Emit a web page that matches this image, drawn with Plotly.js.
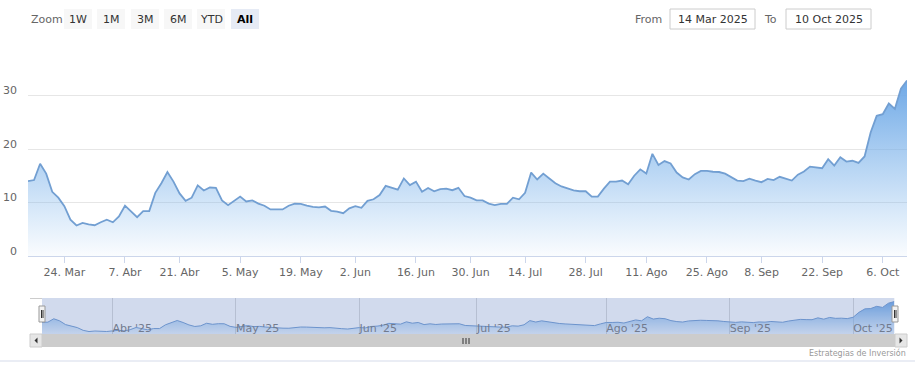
<!DOCTYPE html>
<html>
<head>
<meta charset="utf-8">
<script src="https://cdn.plot.ly/plotly-3.0.1.min.js"></script>
<style>html,body{margin:0;padding:0;background:#fff;}#chart{width:915px;height:379px;}</style>
</head>
<body>
<div id="chart"></div>
<script>
const dates = [
'2025-03-14',
'2025-03-17','2025-03-18','2025-03-19','2025-03-20','2025-03-21',
'2025-03-24','2025-03-25','2025-03-26','2025-03-27','2025-03-28',
'2025-03-31','2025-04-01','2025-04-02','2025-04-03','2025-04-04',
'2025-04-07','2025-04-08','2025-04-09','2025-04-10','2025-04-11',
'2025-04-14','2025-04-15','2025-04-16','2025-04-17',
'2025-04-21','2025-04-22','2025-04-23','2025-04-24','2025-04-25',
'2025-04-28','2025-04-29','2025-04-30','2025-05-01','2025-05-02',
'2025-05-05','2025-05-06','2025-05-07','2025-05-08','2025-05-09',
'2025-05-12','2025-05-13','2025-05-14','2025-05-15','2025-05-16',
'2025-05-19','2025-05-20','2025-05-21','2025-05-22','2025-05-23',
'2025-05-27','2025-05-28','2025-05-29','2025-05-30',
'2025-06-02','2025-06-03','2025-06-04','2025-06-05','2025-06-06',
'2025-06-09','2025-06-10','2025-06-11','2025-06-12','2025-06-13',
'2025-06-16','2025-06-17','2025-06-18','2025-06-20',
'2025-06-23','2025-06-24','2025-06-25','2025-06-26','2025-06-27',
'2025-06-30','2025-07-01','2025-07-02','2025-07-03',
'2025-07-07','2025-07-08','2025-07-09','2025-07-10','2025-07-11',
'2025-07-14','2025-07-15','2025-07-16','2025-07-17','2025-07-18',
'2025-07-21','2025-07-22','2025-07-23','2025-07-24','2025-07-25',
'2025-07-28','2025-07-29','2025-07-30','2025-07-31','2025-08-01',
'2025-08-04','2025-08-05','2025-08-06','2025-08-07','2025-08-08',
'2025-08-11','2025-08-12','2025-08-13','2025-08-14','2025-08-15',
'2025-08-18','2025-08-19','2025-08-20','2025-08-21','2025-08-22',
'2025-08-25','2025-08-26','2025-08-27','2025-08-28','2025-08-29',
'2025-09-02','2025-09-03','2025-09-04','2025-09-05',
'2025-09-08','2025-09-09','2025-09-10','2025-09-11','2025-09-12',
'2025-09-15','2025-09-16','2025-09-17','2025-09-18','2025-09-19',
'2025-09-22','2025-09-23','2025-09-24','2025-09-25','2025-09-26',
'2025-09-29','2025-09-30','2025-10-01','2025-10-02','2025-10-03',
'2025-10-06','2025-10-07','2025-10-08','2025-10-09','2025-10-10'
];
const values = [
14.0,
14.2,17.25,15.4,12.0,10.9,
9.3,6.8,5.7,6.2,5.9,
5.75,6.3,6.8,6.3,7.4,
9.4,8.25,7.25,8.4,8.4,
11.8,13.6,15.7,13.9,
11.7,10.3,10.9,13.2,12.25,
12.8,12.75,10.4,9.5,10.3,
11.1,10.2,10.4,9.8,9.4,
8.7,8.75,8.7,9.4,9.8,
9.75,9.4,9.2,9.1,9.25,
8.45,8.3,8.0,8.9,
9.3,9.0,10.3,10.6,11.4,
13.1,12.8,12.4,14.5,13.25,
13.9,12.0,12.7,12.1,
12.5,12.6,12.3,12.75,11.2,
10.9,10.4,10.4,9.8,
9.5,9.75,9.75,10.9,10.6,
11.8,15.6,14.3,15.4,14.5,
13.6,13.0,12.6,12.25,12.1,
12.1,11.1,11.1,12.6,13.9,
13.9,14.1,13.4,15.0,16.2,
15.4,19.1,17.0,17.75,17.3,
15.6,14.7,14.3,15.3,15.9,
15.9,15.75,15.7,15.4,14.8,
14.1,14.0,14.45,14.1,
13.8,14.4,14.2,14.8,14.45,
14.1,15.2,15.8,16.7,16.5,
16.4,18.1,16.9,18.45,17.65,
17.8,17.4,18.6,23.1,26.2,
26.5,28.5,27.5,31.3,32.8
];
const holidays = ['2025-04-18','2025-05-26','2025-06-19','2025-07-04','2025-09-01'];
const xTickVals = ['2025-03-24','2025-04-07','2025-04-21','2025-05-05','2025-05-19','2025-06-02','2025-06-16','2025-06-30','2025-07-14','2025-07-28','2025-08-11','2025-08-25','2025-09-08','2025-09-22','2025-10-06'];
const xTickText = ['24. Mar','7. Abr','21. Abr','5. May','19. May','2. Jun','16. Jun','30. Jun','14. Jul','28. Jul','11. Ago','25. Ago','8. Sep','22. Sep','6. Oct'];
const yTickVals = [0,10,20,30,40];
const yTickText = ['0','10','20','30',''];
const navTickVals = ['2025-04-01','2025-05-01','2025-06-02','2025-07-01','2025-08-01','2025-09-02','2025-10-01'];
const navTickText = ["Abr '25","May '25","Jun '25","Jul '25","Ago '25","Sep '25","Oct '25"];
const zoomButtons = ['1W','1M','3M','6M','YTD','All'];
const fromText = '14 Mar 2025';
const toText = '10 Oct 2025';
const creditText = 'Estrategias de Inversión';

const W = 915, H = 379, ML = 28, MR = 8;
const PW = W - ML - MR;
const px = x => (x - ML) / PW;
const py = y => (H - y) / H;
const FONT = 'DejaVu Sans, Verdana, sans-serif';

const breaks = [{bounds: ['sat', 'mon']}, {values: holidays}];
const grad = {type: 'vertical', colorscale: [[0, 'rgba(124,181,236,0.04)'], [1, 'rgba(110,168,230,1)']]};

const traces = [
  {x: dates, y: values, type: 'scatter', mode: 'lines', xaxis: 'x', yaxis: 'y',
   line: {color: '#729fd2', width: 1.8}, fill: 'tozeroy', fillgradient: grad, hoverinfo: 'skip'},
  {x: dates, y: values, type: 'scatter', mode: 'lines', xaxis: 'x2', yaxis: 'y2',
   line: {color: '#6f9ad0', width: 1}, fill: 'tozeroy', fillgradient: grad, hoverinfo: 'skip'}
];

const shapes = [];
const annotations = [];
function rect(x0, y0, x1, y1, fill, line, lw) {
  shapes.push({type: 'rect', xref: 'paper', yref: 'paper', x0: px(x0), x1: px(x1), y0: py(y1), y1: py(y0),
    fillcolor: fill, line: {color: line || fill, width: lw === undefined ? 0 : lw}, layer: 'above'});
}
function hline(x0, x1, y, color, w) {
  shapes.push({type: 'line', xref: 'paper', yref: 'paper', x0: px(x0), x1: px(x1), y0: py(y), y1: py(y), line: {color: color, width: w || 1}, layer: 'above'});
}
function vline(x, y0, y1, color, w) {
  shapes.push({type: 'line', xref: 'paper', yref: 'paper', x0: px(x), x1: px(x), y0: py(y0), y1: py(y1), line: {color: color, width: w || 1}, layer: 'above'});
}
function text(t, x, y, anchor, size, color, bold) {
  annotations.push({text: bold ? '<b>' + t + '</b>' : t, xref: 'paper', yref: 'paper', x: px(x), y: py(y),
    xanchor: anchor, yanchor: 'middle', showarrow: false, font: {family: FONT, size: size, color: color}});
}

// Header: zoom buttons
text('Zoom', 29, 19, 'left', 11, '#666');
const btnX = [64, 97, 131, 164, 197, 231];
zoomButtons.forEach((b, i) => {
  const sel = b === 'All';
  rect(btnX[i], 9, btnX[i] + 28, 29, sel ? '#e6ebf5' : '#f7f7f7');
  text(b, btnX[i] + 14, 19, 'center', 11, sel ? '#000' : '#333', sel);
});
text('From', 664, 19, 'right', 11, '#666');
rect(670, 9, 755, 29, '#ffffff', '#cccccc', 1);
text(fromText, 712.5, 19, 'center', 11, '#333');
text('To', 779, 19, 'right', 11, '#666');
rect(786, 9, 871, 29, '#ffffff', '#cccccc', 1);
text(toText, 828.5, 19, 'center', 11, '#333');

// Navigator mask and outline
shapes.push({type: 'rect', xref: 'x2 domain', yref: 'y2 domain', x0: 0, x1: 1, y0: 0, y1: 1,
  fillcolor: 'rgba(102,133,194,0.3)', line: {width: 0}, layer: 'above'});
hline(30, 42, 298.5, '#cccccc', 1);
// Scrollbar
rect(30, 334, 907, 347, '#f2f2f2');
rect(42, 334, 895, 347, '#cccccc');
rect(30, 334, 42, 347, '#e6e6e6', '#cccccc', 1);
rect(895, 334, 907, 347, '#e6e6e6', '#cccccc', 1);
shapes.push({type: 'path', xref: 'paper', yref: 'paper', layer: 'above', fillcolor: '#333', line: {width: 0},
  path: `M ${px(37.5)} ${py(337.5)} L ${px(37.5)} ${py(343.5)} L ${px(34.5)} ${py(340.5)} Z`});
shapes.push({type: 'path', xref: 'paper', yref: 'paper', layer: 'above', fillcolor: '#333', line: {width: 0},
  path: `M ${px(899.5)} ${py(337.5)} L ${px(899.5)} ${py(343.5)} L ${px(902.5)} ${py(340.5)} Z`});
[463, 466, 469].forEach(x => vline(x, 338, 344, '#333', 1));
// Navigator handles
[[39, 45], [892, 898]].forEach(([a, b]) => {
  rect(a, 306, b, 322, '#f2f2f2', '#999999', 1);
  vline(a + 2.5, 310, 318, '#333', 1);
  vline(a + 4, 310, 318, '#333', 1);
});
// Bottom separator and credit
hline(0, 915, 361, '#d5dbea', 1);
text(creditText, 908, 353, 'right', 8, '#999');

const layout = {
  width: W, height: H,
  margin: {l: ML, r: MR, t: 0, b: 0},
  paper_bgcolor: '#fff', plot_bgcolor: '#fff',
  showlegend: false,
  font: {family: FONT, color: '#666', size: 11},
  xaxis: {
    type: 'date', domain: [0, 1], anchor: 'y',
    range: [dates[0], dates[dates.length - 1]], rangebreaks: breaks,
    tickmode: 'array', tickvals: xTickVals, ticktext: xTickText,
    showgrid: false, zeroline: false, showline: true, linecolor: '#ccd6eb', linewidth: 1,
    ticks: 'outside', ticklen: 6, tickcolor: '#ccd6eb',
    tickfont: {family: FONT, size: 11, color: '#666'}, fixedrange: true
  },
  yaxis: {
    domain: [py(256), py(42)], anchor: 'x', range: [0, 40],
    tickmode: 'array', tickvals: yTickVals, ticktext: yTickText,
    showgrid: true, gridcolor: '#e6e6e6', zeroline: false, showline: false,
    ticklabelshift: -5, ticklabelstandoff: 10,
    tickfont: {family: FONT, size: 11, color: '#666'}, fixedrange: true
  },
  xaxis2: {
    type: 'date', domain: [px(42), px(894.3)], anchor: 'y2',
    range: [dates[0], dates[dates.length - 1]], rangebreaks: breaks,
    tickmode: 'array', tickvals: navTickVals, ticktext: navTickText,
    showgrid: true, gridcolor: '#d8d8d8', zeroline: false, showline: false,
    ticks: '', ticklabelposition: 'inside right', ticklabelstandoff: -6,
    tickfont: {family: FONT, size: 11, color: '#777'}, fixedrange: true
  },
  yaxis2: {
    domain: [py(334), py(298)], anchor: 'x2', range: [3.5, 36],
    showgrid: false, zeroline: false, showticklabels: false, showline: false, fixedrange: true
  },
  shapes: shapes,
  annotations: annotations
};

Plotly.newPlot('chart', traces, layout, {displayModeBar: false, staticPlot: true});
</script>
</body>
</html>
